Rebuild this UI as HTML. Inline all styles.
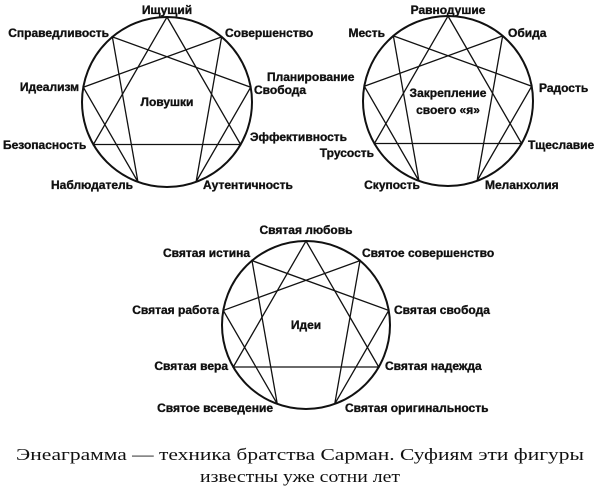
<!DOCTYPE html>
<html><head><meta charset="utf-8"><style>
html,body{margin:0;padding:0;background:#fff;}
svg{display:block;}
.l text{font-family:"Liberation Sans","DejaVu Sans",sans-serif;font-weight:700;font-size:12px;fill:#111;stroke:#111;stroke-width:0.35;}
.c{font-family:"Liberation Serif","DejaVu Serif",serif;font-size:17px;fill:#111;}
</style></head><body>
<svg id="s" width="600" height="489" viewBox="0 0 600 489" xmlns="http://www.w3.org/2000/svg">
<g id="g" stroke="#111" fill="none" stroke-width="1.3"></g>
<g class="l">
<text x="167" y="14" text-anchor="middle">Ищущий</text>
<text x="109" y="37" text-anchor="end">Справедливость</text>
<text x="225" y="37">Совершенство</text>
<text x="267" y="81">Планирование</text>
<text x="254" y="94">Свобода</text>
<text x="79" y="91" text-anchor="end">Идеализм</text>
<text x="167" y="106" text-anchor="middle">Ловушки</text>
<text x="3" y="149">Безопасность</text>
<text x="250" y="141">Эффективность</text>
<text x="133" y="189" text-anchor="end">Наблюдатель</text>
<text x="203" y="189">Аутентичность</text>

<text x="448" y="14" text-anchor="middle">Равнодушие</text>
<text x="385" y="37" text-anchor="end">Месть</text>
<text x="508" y="37">Обида</text>
<text x="539" y="92">Радость</text>
<text x="448" y="97" text-anchor="middle">Закрепление</text>
<text x="448" y="114" text-anchor="middle">своего «я»</text>
<text x="528" y="149">Тщеславие</text>
<text x="374" y="157" text-anchor="end">Трусость</text>
<text x="392" y="189" text-anchor="middle">Скупость</text>
<text x="485" y="189">Меланхолия</text>

<text x="306" y="234" text-anchor="middle">Святая любовь</text>
<text x="250" y="257" text-anchor="end">Святая истина</text>
<text x="362" y="257">Святое совершенство</text>
<text x="219" y="314" text-anchor="end">Святая работа</text>
<text x="394" y="314">Святая свобода</text>
<text x="306" y="329" text-anchor="middle">Идеи</text>
<text x="228" y="370" text-anchor="end">Святая вера</text>
<text x="385" y="370">Святая надежда</text>
<text x="273" y="412" text-anchor="end">Святое всеведение</text>
<text x="345" y="412">Святая оригинальность</text>
</g>
<text class="c" x="300" y="460" text-anchor="middle" textLength="568" lengthAdjust="spacingAndGlyphs">Энеаграмма — техника братства Сарман. Суфиям эти фигуры</text>
<text class="c" x="300" y="482" text-anchor="middle" textLength="200" lengthAdjust="spacingAndGlyphs">известны уже сотни лет</text>
</svg>
<script>
var g=document.getElementById('g'),ns='http://www.w3.org/2000/svg';
function en(cx,cy,r){
 var c=document.createElementNS(ns,'circle');c.setAttribute('cx',cx);c.setAttribute('cy',cy);c.setAttribute('r',r);c.setAttribute('stroke-width','2');g.appendChild(c);
 function p(k){var a=k*40*Math.PI/180;return [cx+r*Math.sin(a),cy-r*Math.cos(a)];}
 function poly(a){var s=a.map(function(k){return p(k).join(',');}).join(' ');var e=document.createElementNS(ns,'polygon');e.setAttribute('points',s);g.appendChild(e);}
 poly([0,3,6]);poly([1,4,2,8,5,7]);
}
en(167,102,85);en(448,101,85);en(306,325,84);
</script>
</body></html>
